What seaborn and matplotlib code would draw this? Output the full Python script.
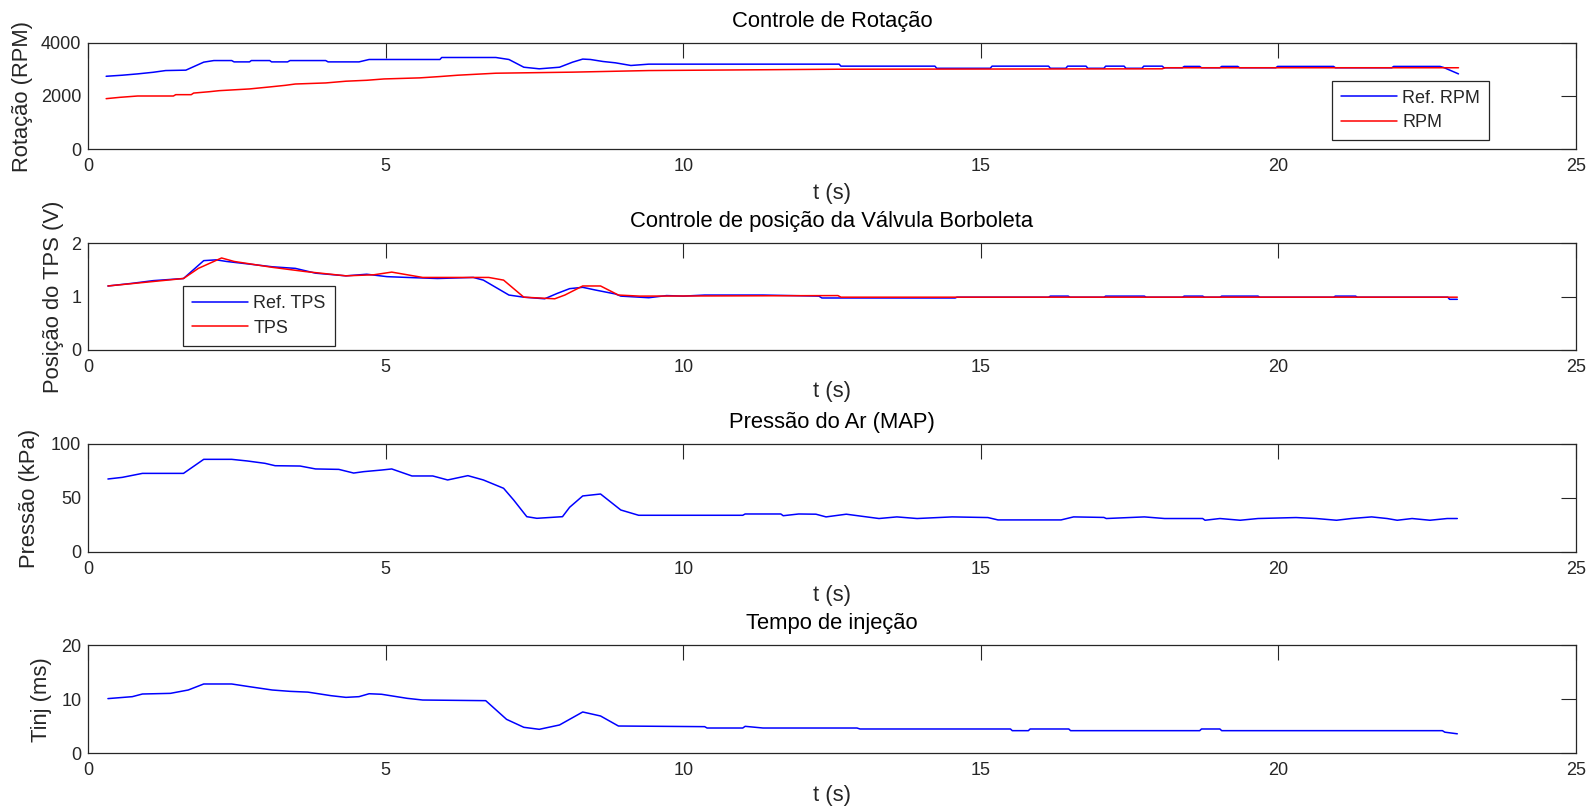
import matplotlib
matplotlib.use("Agg")
import matplotlib.pyplot as plt
import seaborn as sns
import pandas as pd

# ---- Rotation control (RPM) ----
rpm_ref_t = [0.30, 0.57, 0.83, 1.09, 1.30, 1.64, 1.94, 2.11, 2.41, 2.45, 2.71, 2.74, 3.05, 3.08,
             3.35, 3.39, 3.99, 4.03, 4.55, 4.72, 5.91, 5.94, 6.85, 7.07, 7.32, 7.58, 7.92, 8.14,
             8.31, 8.44, 8.65, 8.86, 9.12, 9.42, 12.62, 12.65, 14.23, 14.26, 15.16, 15.19,
             16.14, 16.17, 16.43, 16.46, 16.77, 16.80, 17.07, 17.10, 17.41, 17.44, 17.71, 17.74,
             18.05, 18.08, 18.39, 18.42, 18.68, 18.71, 19.02, 19.05, 19.32, 19.35, 19.96, 19.99,
             20.93, 20.96, 21.91, 21.94, 22.72, 22.78, 23.03]
rpm_ref = [2740, 2780, 2830, 2890, 2955, 2970, 3270, 3330, 3330, 3280, 3280, 3330, 3330, 3280,
           3280, 3330, 3330, 3280, 3280, 3370, 3370, 3445, 3445, 3370, 3080, 3020, 3080, 3270,
           3385, 3370, 3295, 3245, 3145, 3195, 3195, 3120, 3120, 3040, 3040, 3120,
           3120, 3040, 3040, 3120, 3120, 3040, 3040, 3120, 3120, 3040, 3040, 3120,
           3120, 3060, 3060, 3110, 3110, 3060, 3060, 3110, 3110, 3060, 3060, 3110,
           3110, 3060, 3060, 3110, 3110, 3070, 2830]
rpm_t = [0.30, 0.53, 0.83, 1.43, 1.47, 1.73, 1.77, 2.03, 2.20, 2.71, 3.05, 3.31, 3.48, 3.99,
         4.33, 4.68, 4.97, 5.57, 5.91, 6.21, 6.85, 8.14, 9.42, 12.62, 18.05, 18.10, 23.03]
rpm = [1900, 1950, 2000, 2000, 2050, 2050, 2110, 2160, 2200, 2265, 2340, 2400, 2450, 2490,
       2555, 2590, 2640, 2680, 2730, 2780, 2855, 2895, 2955, 3005, 3020, 3060, 3060]

# ---- Throttle valve position (TPS) ----
tps_ref_t = [0.33, 0.74, 1.09, 1.60, 1.94, 2.15, 2.32, 2.71, 3.09, 3.48, 3.82, 4.33, 4.68,
             5.02, 5.36, 5.87, 6.47, 6.64, 7.07, 7.32, 7.67, 7.88, 8.09, 8.31, 8.52, 8.86,
             8.95, 9.42, 9.72, 10.00, 10.36, 11.34, 12.28, 12.33, 14.57, 14.60, 16.14, 16.17,
             16.47, 16.50, 17.07, 17.10, 17.75, 17.78, 18.39, 18.42, 18.73, 18.76, 19.02,
             19.05, 19.66, 19.69, 20.93, 20.96, 21.30, 21.33, 22.85, 22.88, 23.01]
tps_ref = [1.20, 1.25, 1.30, 1.34, 1.675, 1.69, 1.66, 1.61, 1.56, 1.53, 1.44, 1.39, 1.42,
           1.375, 1.36, 1.34, 1.36, 1.31, 1.03, 0.99, 0.96, 1.06, 1.15, 1.175, 1.125, 1.05,
           1.01, 0.98, 1.02, 1.01, 1.03, 1.03, 1.01, 0.975, 0.975, 0.99, 0.99, 1.01,
           1.01, 0.99, 0.99, 1.01, 1.01, 0.99, 0.99, 1.01, 1.01, 0.99, 0.99,
           1.01, 1.01, 0.99, 0.99, 1.01, 1.01, 0.99, 0.99, 0.95, 0.95]
tps_t = [0.33, 1.60, 1.85, 2.24, 2.45, 3.09, 3.65, 4.33, 4.80, 5.10, 5.36, 5.62, 6.73, 6.98,
         7.32, 7.84, 8.01, 8.31, 8.61, 8.91, 9.27, 12.60, 12.65, 23.01]
tps = [1.20, 1.34, 1.53, 1.725, 1.66, 1.55, 1.47, 1.39, 1.41, 1.46, 1.41, 1.36, 1.36, 1.31,
       0.99, 0.96, 1.03, 1.20, 1.20, 1.03, 1.01, 1.02, 0.99, 0.99]

# ---- Manifold air pressure (MAP) ----
map_t = [0.33, 0.57, 0.91, 1.60, 1.94, 2.41, 2.67, 2.97, 3.14, 3.56, 3.82, 4.21, 4.46, 4.63,
         4.93, 5.10, 5.44, 5.79, 6.04, 6.38, 6.64, 6.98, 7.15, 7.37, 7.54, 7.97, 8.09, 8.31,
         8.61, 8.95, 9.25, 11.00, 11.04, 11.64, 11.68, 11.94, 12.23, 12.40, 12.74, 13.00,
         13.29, 13.59, 13.93, 14.52, 15.12, 15.29, 16.35, 16.56, 17.07, 17.11, 17.75, 18.09,
         18.73, 18.77, 19.02, 19.36, 19.66, 20.30, 20.64, 20.98, 21.23, 21.57, 21.83, 22.00,
         22.25, 22.55, 22.84, 23.01]
map_kpa = [67.6, 69.1, 72.8, 72.8, 85.8, 85.8, 84.3, 82.1, 79.9, 79.6, 76.9, 76.5, 73.1, 74.4,
           75.9, 76.9, 70.4, 70.4, 66.7, 70.7, 66.7, 59.0, 48.1, 32.7, 31.2, 32.7, 41.4, 51.9,
           53.7, 38.9, 34.0, 34.0, 35.2, 35.2, 33.6, 35.2, 35.0, 32.5, 35.0, 33.1,
           31.0, 32.5, 31.0, 32.5, 31.9, 29.7, 29.7, 32.5, 32.0, 31.0, 32.5, 31.0,
           31.0, 29.4, 31.0, 29.4, 31.0, 31.9, 31.0, 29.4, 31.0, 32.5, 31.0, 29.4,
           31.0, 29.4, 31.0, 31.0]

# ---- Injection time ----
tinj_t = [0.33, 0.74, 0.91, 1.38, 1.68, 1.94, 2.41, 2.71, 3.09, 3.39, 3.69, 4.08, 4.33, 4.55,
          4.72, 4.93, 5.36, 5.62, 6.68, 7.03, 7.32, 7.58, 7.92, 8.31, 8.61, 8.91, 10.36,
          10.40, 11.00, 11.04, 11.34, 12.92, 12.97, 15.50, 15.53, 15.80, 15.83, 16.48, 16.51,
          18.68, 18.71, 19.02, 19.05, 22.76, 22.80, 23.01]
tinj = [10.1, 10.46, 10.95, 11.07, 11.69, 12.8, 12.8, 12.3, 11.69, 11.44, 11.3, 10.64, 10.33,
        10.46, 11.0, 10.9, 10.15, 9.84, 9.72, 6.27, 4.8, 4.43, 5.23, 7.63, 6.89, 5.04, 4.92,
        4.67, 4.67, 4.98, 4.67, 4.67, 4.49, 4.49, 4.18, 4.18, 4.49, 4.49, 4.18,
        4.18, 4.49, 4.49, 4.18, 4.18, 3.9, 3.6]

titles = ["Controle de Rotação", "Controle de posição da Válvula Borboleta",
          "Pressão do Ar (MAP)", "Tempo de injeção"]
ylabels = ["Rotação (RPM)", "Posição do TPS (V)", "Pressão (kPa)", "Tinj (ms)"]
yticks = [[0, 2000, 4000], [0, 1, 2], [0, 50, 100], [0, 10, 20]]
xticks = [0, 5, 10, 15, 20, 25]

sns.set_style("white")
plt.rcParams["font.family"] = ["Liberation Sans", "DejaVu Sans"]
plt.rcParams["font.size"] = 13

INK = "#262626"
BLUE = "#0000FF"
RED = "#FF0000"
TICK_FS = 13
LABEL_FS = 15.8

fig = plt.figure(figsize=(15.93, 8.10), dpi=100)
W, H = 1593.0, 810.0
left_px, right_px = 88.3, 1575.7
panel_px = [(42.7, 149.3), (243.3, 350.0), (444.0, 552.0), (645.0, 753.3)]
# horizontal centre (px) of each y label, vertical gap (px) from axis bottom to x label centre
ylabel_cx = [22.5, 53.3, 30.0, 41.5]
xlabel_dy = [44.0, 42.0, 43.0, 42.5]

axes = []
for top, bot in panel_px:
    ax = fig.add_axes([left_px / W, 1 - bot / H, (right_px - left_px) / W, (bot - top) / H])
    axes.append(ax)


def draw(ax, t, v, color, label=None):
    df = pd.DataFrame({"t": t, "v": v})
    sns.lineplot(data=df, x="t", y="v", ax=ax, color=color, linewidth=1.1,
                 estimator=None, sort=False, label=label, legend=False)


draw(axes[0], rpm_ref_t, rpm_ref, BLUE, "Ref. RPM")
draw(axes[0], rpm_t, rpm, RED, "RPM")
draw(axes[1], tps_ref_t, tps_ref, BLUE, "Ref. TPS")
draw(axes[1], tps_t, tps, RED, "TPS")
draw(axes[2], map_t, map_kpa, BLUE)
draw(axes[3], tinj_t, tinj, BLUE)

for i, (ax, title, ylab, yt) in enumerate(zip(axes, titles, ylabels, yticks)):
    top, bot = panel_px[i]
    ax.set_xlim(0, 25)
    ax.set_ylim(yt[0], yt[-1])
    ax.set_xticks(xticks)
    ax.set_yticks(yt)
    ax.set_title(title, fontsize=LABEL_FS, pad=11.5, color="black")
    ax.set_ylabel(ylab, fontsize=LABEL_FS, color=INK, va="center", ha="center")
    ax.set_xlabel("t (s)", fontsize=LABEL_FS, color=INK, va="center", ha="center")
    ax.yaxis.set_label_coords((ylabel_cx[i] - left_px) / (right_px - left_px), 0.5)
    ax.xaxis.set_label_coords(0.5, -xlabel_dy[i] / (bot - top))
    ax.tick_params(direction="in", length=10.8, width=0.8, color=INK, labelcolor=INK,
                   top=True, right=True, labelsize=TICK_FS)
    ax.tick_params(axis="x", pad=6.5)
    ax.tick_params(axis="y", pad=5)
    for sp in ax.spines.values():
        sp.set_visible(True)
        sp.set_color(INK)
        sp.set_linewidth(0.9)
    ax.grid(False)
    ax.set_facecolor("white")

leg_kw = dict(loc="upper left", borderaxespad=0, fancybox=False, framealpha=1,
              edgecolor=INK, fontsize=TICK_FS, handlelength=3.1, handletextpad=0.3,
              borderpad=0.5, labelspacing=0.42)
l1 = axes[0].legend(bbox_to_anchor=(0.8362, 0.6435), **leg_kw)
l2 = axes[1].legend(bbox_to_anchor=(0.0637, 0.60), **leg_kw)
for lg in (l1, l2):
    lg.get_frame().set_linewidth(0.9)
    for txt in lg.get_texts():
        txt.set_color(INK)

fig.savefig("out.png", dpi=100, facecolor="white")
